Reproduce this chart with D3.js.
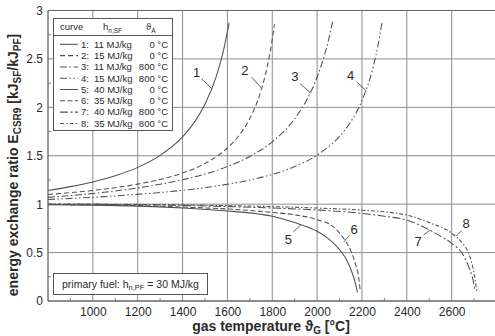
<!DOCTYPE html>
<html><head><meta charset="utf-8">
<script src="https://d3js.org/d3.v7.min.js"></script>
<style>
body{margin:0;background:#fff}
svg{display:block;font-family:"Liberation Sans",Arial,Helvetica,sans-serif}
</style></head>
<body><svg id="c" width="495" height="336"></svg>
<script>
// ---- data ----
const xTickValues=[1000,1200,1400,1600,1800,2000,2200,2400,2600];
const yTickValues=[0,0.5,1,1.5,2,2.5,3];
const yTickLabels=["0","0.5","1","1.5","2","2.5","3"];

const tempC1=[800,900,1000,1100,1200,1300,1400,1450,1500,1550,1580,1608];
const ratioC1=[1.142,1.181,1.230,1.294,1.380,1.504,1.695,1.837,2.031,2.317,2.562,2.875];
const tempC2=[800,900,1000,1100,1200,1300,1400,1500,1600,1650,1700,1750,1780,1800,1810];
const ratioC2=[1.100,1.119,1.142,1.170,1.207,1.255,1.321,1.420,1.580,1.704,1.885,2.173,2.444,2.700,2.860];
const tempC3=[800,900,1000,1100,1200,1300,1400,1500,1600,1700,1800,1900,1950,2000,2030,2050,2070];
const ratioC3=[1.070,1.089,1.111,1.137,1.168,1.206,1.252,1.311,1.388,1.493,1.644,1.882,2.061,2.311,2.516,2.686,2.894];
const tempC4=[800,900,1000,1100,1200,1300,1400,1500,1600,1700,1800,1900,2000,2100,2150,2200,2250,2270,2290];
const ratioC4=[1.049,1.059,1.071,1.085,1.101,1.120,1.143,1.171,1.205,1.249,1.307,1.388,1.507,1.701,1.851,2.070,2.417,2.621,2.888];
const tempC5=[800,1000,1200,1400,1600,1700,1800,1900,2000,2050,2100,2130,2155,2170,2180];
const ratioC5=[0.995,0.990,0.980,0.960,0.930,0.910,0.875,0.810,0.720,0.645,0.530,0.430,0.300,0.190,0.090];
const tempC6=[800,1000,1200,1400,1600,1800,1900,2000,2070,2120,2150,2170,2185,2192];
const ratioC6=[0.997,0.993,0.985,0.970,0.950,0.915,0.890,0.840,0.770,0.640,0.520,0.390,0.250,0.110];
const tempC7=[800,1200,1600,1800,2000,2200,2300,2400,2500,2550,2600,2650,2680,2695,2704];
const ratioC7=[1.000,0.995,0.975,0.960,0.940,0.905,0.875,0.835,0.735,0.670,0.595,0.480,0.330,0.220,0.110];
const tempC8=[800,1200,1600,1800,2000,2200,2400,2500,2600,2650,2675,2697,2706,2712];
const ratioC8=[1.002,0.998,0.985,0.975,0.960,0.938,0.887,0.810,0.700,0.590,0.500,0.320,0.200,0.100];

const curveIds=["1","2","3","4","5","6","7","8"];
const heatValues=["11 MJ/kg","15 MJ/kg","11 MJ/kg","15 MJ/kg","40 MJ/kg","35 MJ/kg","40 MJ/kg","35 MJ/kg"];
const airTemps=["0 °C","0 °C","800 °C","800 °C","0 °C","0 °C","800 °C","800 °C"];

// curve label annotations (data coords): text position, leader start, leader end
const labelT=[1463,1678,1901,2150,1872,2165,2451,2664];
const labelV=[2.364,2.381,2.32,2.33,0.639,0.739,0.619,0.80];
const leadT0=[1485,1708,1924,2177,1894,2144,2474,2645];
const leadV0=[2.296,2.312,2.244,2.261,0.714,0.680,0.680,0.725];
const leadT1=[1530,1750,1972,2221,1927,2120,2504,2619];
const leadV1=[2.193,2.203,2.147,2.168,0.784,0.611,0.732,0.670];

// ---- styles ----
const dashes=["none","5,3","7,2.5,1.5,2.5","7,2.5,1.5,2.5,1.5,2.5","none","5,2.5","8,2.5,2,2.5","4,2,1.5,2"];
const lineCol="#505050", gridCol="#8c8c8c", textCol="#2a2a2a";

const series=[[tempC1,ratioC1],[tempC2,ratioC2],[tempC3,ratioC3],[tempC4,ratioC4],
              [tempC5,ratioC5],[tempC6,ratioC6],[tempC7,ratioC7],[tempC8,ratioC8]];

const svg=d3.select("#c");
const L=48,T=10.5,R=496.5,B=301;
const x=d3.scaleLinear().domain([800,2800]).range([L,R]);
const y=d3.scaleLinear().domain([0,3]).range([B,T]);

// grid
const g=svg.append("g");
g.selectAll(".vg").data(xTickValues).join("line")
 .attr("x1",d=>x(d)).attr("x2",d=>x(d)).attr("y1",T).attr("y2",B)
 .attr("stroke",gridCol).attr("stroke-width",1);
g.selectAll(".hg").data(yTickValues).join("line")
 .attr("x1",L).attr("x2",R).attr("y1",d=>y(d)).attr("y2",d=>y(d))
 .attr("stroke",gridCol).attr("stroke-width",1);
// minor ticks
const xMinor=d3.range(900,2800,200);
g.selectAll(".xm").data(xMinor).join("line")
 .attr("x1",d=>x(d)).attr("x2",d=>x(d)).attr("y1",B).attr("y2",B-3)
 .attr("stroke",gridCol);
const yMinor=[0.25,0.75,1.25,1.75,2.25,2.75];
g.selectAll(".ym").data(yMinor).join("line")
 .attr("x1",L).attr("x2",L+3).attr("y1",d=>y(d)).attr("y2",d=>y(d))
 .attr("stroke",gridCol);
// frame
svg.append("line").attr("x1",L).attr("x2",L).attr("y1",T).attr("y2",B).attr("stroke","#555").attr("stroke-width",1.2);
svg.append("line").attr("x1",L).attr("x2",R).attr("y1",B).attr("y2",B).attr("stroke","#555").attr("stroke-width",1.2);
svg.append("line").attr("x1",L).attr("x2",R).attr("y1",T).attr("y2",T).attr("stroke","#666").attr("stroke-width",1);

// axes labels via d3 axes (no domain lines)
const xAxis=svg.append("g").attr("transform",`translate(0,${B})`)
 .call(d3.axisBottom(x).tickValues(xTickValues).tickSize(0).tickPadding(6).tickFormat(d3.format("d")));
xAxis.select(".domain").remove();
xAxis.selectAll("text").attr("font-size",12).attr("fill",textCol).attr("font-family","Liberation Sans, Arial, sans-serif");
const yAxis=svg.append("g").attr("transform",`translate(${L},0)`)
 .call(d3.axisLeft(y).tickValues(yTickValues).tickSize(0).tickPadding(5).tickFormat((d,i)=>yTickLabels[i]));
yAxis.select(".domain").remove();
yAxis.selectAll("text").attr("font-size",12).attr("fill",textCol).attr("font-family","Liberation Sans, Arial, sans-serif");

// curves
const line=d3.line().x(d=>x(d[0])).y(d=>y(d[1])).curve(d3.curveMonotoneX);
series.forEach((s,i)=>{
  const pts=s[0].map((t,k)=>[t,s[1][k]]);
  svg.append("path").attr("d",line(pts)).attr("fill","none")
   .attr("stroke",lineCol).attr("stroke-width",1.05)
   .attr("stroke-dasharray",dashes[i]);
});

// curve labels
curveIds.forEach((id,i)=>{
  svg.append("line").attr("x1",x(leadT0[i])).attr("y1",y(leadV0[i]))
   .attr("x2",x(leadT1[i])).attr("y2",y(leadV1[i])).attr("stroke",lineCol).attr("stroke-width",0.9);
  svg.append("text").attr("x",x(labelT[i])).attr("y",y(labelV[i])).attr("dy","0.35em")
   .attr("text-anchor","middle").attr("font-size",13).attr("fill",textCol).text(id);
});

// legend
const lg=svg.append("g");
lg.append("rect").attr("x",53.5).attr("y",18.5).attr("width",119).attr("height",112)
 .attr("fill","#fff").attr("stroke","#555").attr("stroke-width",1);
lg.append("line").attr("x1",53.5).attr("x2",172.5).attr("y1",35.5).attr("y2",35.5).attr("stroke","#555");
const hdr=lg.append("g").attr("font-size",9.5).attr("fill",textCol);
hdr.append("text").attr("x",60).attr("y",30).text("curve");
const h1=hdr.append("text").attr("x",103).attr("y",30);
h1.append("tspan").text("h");
h1.append("tspan").attr("font-size",6.5).attr("dy",2.5).text("n,SF");
const h2=hdr.append("text").attr("x",146).attr("y",30);
h2.append("tspan").text("ϑ");
h2.append("tspan").attr("font-size",6.5).attr("dy",2.5).text("A");
curveIds.forEach((id,i)=>{
  const yy=44.3+i*11.3;
  lg.append("line").attr("x1",60).attr("x2",78).attr("y1",yy).attr("y2",yy)
   .attr("stroke",lineCol).attr("stroke-width",1.05).attr("stroke-dasharray",dashes[i]);
  lg.append("text").attr("x",81).attr("y",yy).attr("dy","0.35em").attr("font-size",9.5).attr("fill",textCol).text(id+":");
  lg.append("text").attr("x",94).attr("y",yy).attr("dy","0.35em").attr("font-size",9.5).attr("fill",textCol).text(heatValues[i]);
  lg.append("text").attr("x",168).attr("y",yy).attr("dy","0.35em").attr("text-anchor","end").attr("font-size",9.5).attr("fill",textCol).text(airTemps[i]);
});

// primary fuel box
svg.append("rect").attr("x",53.5).attr("y",273.5).attr("width",154).attr("height",21)
 .attr("fill","#fff").attr("stroke","#555");
const pf=svg.append("text").attr("x",62).attr("y",287.5).attr("font-size",10.5).attr("fill",textCol);
pf.append("tspan").text("primary fuel: h");
pf.append("tspan").attr("font-size",7.5).attr("dy",2.5).text("n,PF");
pf.append("tspan").attr("dy",-2.5).text(" = 30 MJ/kg");

// axis titles
const xt=svg.append("text").attr("x",271).attr("y",331).attr("text-anchor","middle")
 .attr("font-size",14).attr("font-weight","bold").attr("fill",textCol);
xt.append("tspan").text("gas temperature ϑ");
xt.append("tspan").attr("font-size",10).attr("dy",3).text("G");
xt.append("tspan").attr("dy",-3).text(" [°C]");

const yt=svg.append("text").attr("transform","translate(18,165) rotate(-90)").attr("text-anchor","middle")
 .attr("font-size",14).attr("font-weight","bold").attr("fill",textCol);
yt.append("tspan").text("energy exchange ratio E");
yt.append("tspan").attr("font-size",10).attr("dy",3).text("CSR9");
yt.append("tspan").attr("dy",-3).text(" [kJ");
yt.append("tspan").attr("font-size",10).attr("dy",3).text("SF");
yt.append("tspan").attr("dy",-3).text("/kJ");
yt.append("tspan").attr("font-size",10).attr("dy",3).text("PF");
yt.append("tspan").attr("dy",-3).text("]");
</script></body></html>
